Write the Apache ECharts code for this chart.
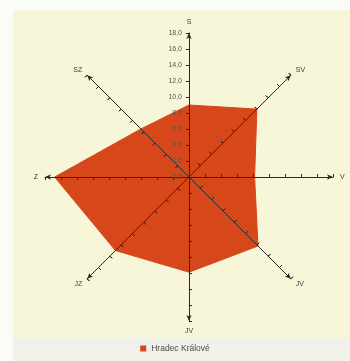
<!DOCTYPE html>
<html>
<head>
<meta charset="utf-8">
<script src="https://cdn.jsdelivr.net/npm/echarts@6/dist/echarts.min.js"></script>
<style>
  html, body { margin: 0; padding: 0; background: #fbfbf8; }
  #chart { width: 350px; height: 361px; }
</style>
</head>
<body>
<div id="chart"></div>
<script>
// directions, counterclockwise from the top (how echarts lays out radar axes)
const directions = ['S', 'SZ', 'Z', 'JZ', 'JV', 'JV', 'V', 'SV'];
const windValues = [9.0, 8.5, 16.8, 13.0, 11.9, 12.2, 8.2, 12.0];
const seriesName = 'Hradec Králové';
const axisMax = 18;
const axisStep = 2;

const center = [189, 177];
const radius = 144;
const fill = '#d6481a';
const ink = '#2a2a2a';

const chart = echarts.init(document.getElementById('chart'));

const indicator = directions.map(d => ({ name: d, min: 0, max: axisMax }));

const radarBase = {
  z: 5,
  center: center,
  radius: radius,
  startAngle: 90,
  shape: 'polygon',
  splitNumber: axisMax / axisStep,
  indicator: indicator,
  splitLine: { show: false },
  splitArea: { show: false },
  axisLabel: { show: false }
};

chart.setOption({
  animation: false,
  graphic: [
    { type: 'rect', z: -10, shape: { x: 13, y: 10, width: 337, height: 328 }, style: { fill: '#f8f6d9' } },
    { type: 'rect', z: -10, shape: { x: 13, y: 338, width: 337, height: 23 }, style: { fill: '#f1f1ec' } }
  ],
  legend: {
    bottom: 3,
    left: 'center',
    itemWidth: 6,
    itemHeight: 6,
    icon: 'rect',
    itemGap: 4,
    textStyle: { fontSize: 8.5, color: '#4a4a4a', fontFamily: 'Liberation Sans' },
    data: [seriesName]
  },
  radar: [
    Object.assign({}, radarBase, {
      nameGap: 7,
      axisName: { color: '#3a3a3a', fontSize: 7, fontFamily: 'Liberation Sans' },
      axisLine: { lineStyle: { color: ink, width: 1 }, symbol: ['none', 'arrow'], symbolSize: [4, 6] },
      axisTick: { show: true, length: 3, lineStyle: { color: ink, width: 1 } }
    }),
    Object.assign({}, radarBase, {
      axisName: { show: false },
      axisLine: { show: false },
      axisTick: { show: true, inside: true, length: 3, lineStyle: { color: ink, width: 1 } }
    })
  ],
  polar: { center: center, radius: radius },
  angleAxis: { type: 'value', min: 0, max: 360, startAngle: 90, show: false },
  radiusAxis: {
    type: 'value',
    min: 0,
    max: axisMax,
    interval: axisStep,
    axisLine: { show: false },
    axisTick: { show: false },
    splitLine: { show: false },
    axisLabel: {
      fontSize: 7,
      color: '#555',
      fontFamily: 'Liberation Sans',
      margin: 7,
      formatter: v => v.toFixed(1).replace('.', ',')
    },
    z: 6
  },
  series: [{
    type: 'radar',
    name: seriesName,
    radarIndex: 0,
    z: 1,
    symbol: 'none',
    itemStyle: { color: fill },
    lineStyle: { color: fill, width: 1 },
    areaStyle: { color: fill, opacity: 1 },
    data: [{ value: windValues, name: seriesName }]
  }]
});
</script>
</body>
</html>
